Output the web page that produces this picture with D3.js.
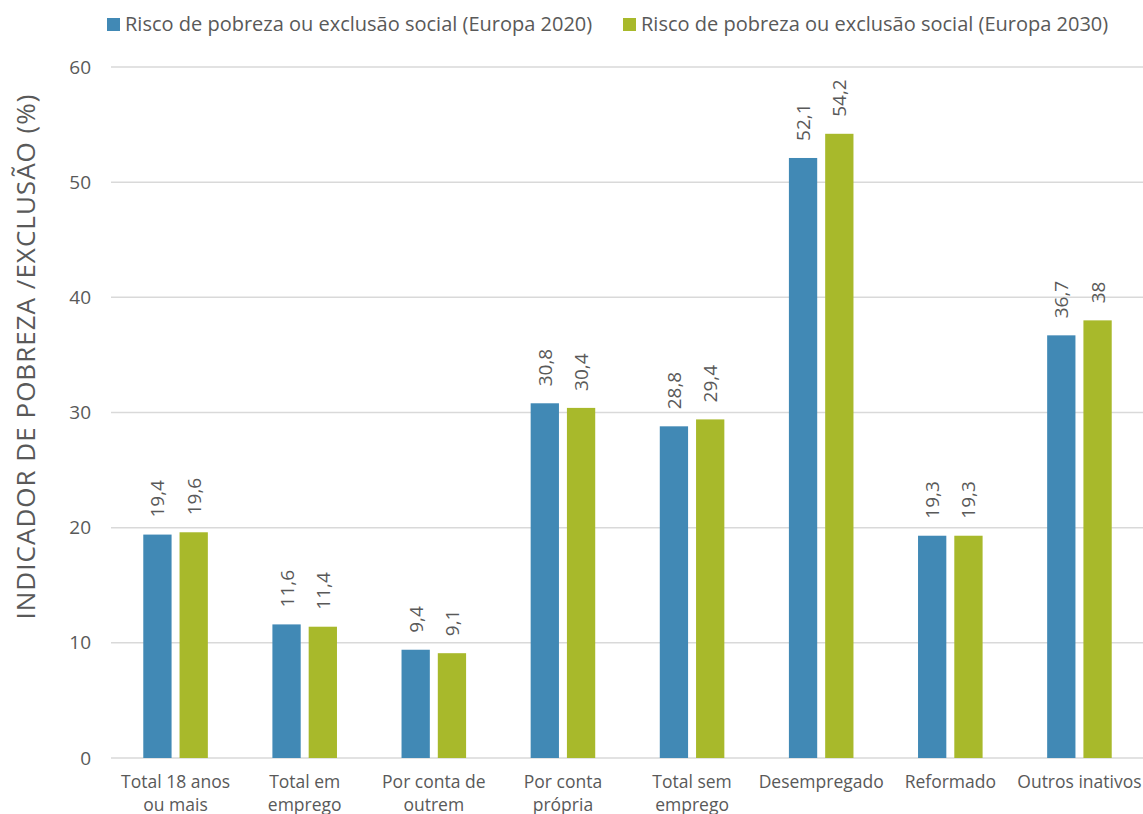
<!DOCTYPE html>
<html lang="pt">
<head>
<meta charset="UTF-8">
<title>Risco de pobreza ou exclusão social</title>
<style>
body {
    margin: 0;
    background-color: #fff;
    font-family: "Open Sans", "Noto Sans", sans-serif;
}
svg text {
    fill: #595959;
}
</style>
</head>
<body>
<div id="plot"></div>
<script src="https://cdn.jsdelivr.net/npm/d3@7"></script>
<script>

const w = 1143,
      h = 814;

// data
const categories = ["Total 18 anos|ou mais", "Total em|emprego", "Por conta de|outrem", "Por conta|própria",
                    "Total sem|emprego", "Desempregado", "Reformado", "Outros inativos"];
const seriesNames = ["Risco de pobreza ou exclusão social (Europa 2020)",
                     "Risco de pobreza ou exclusão social (Europa 2030)"];
const values2020 = [19.4, 11.6, 9.4, 30.8, 28.8, 52.1, 19.3, 36.7];
const values2030 = [19.6, 11.4, 9.1, 30.4, 29.4, 54.2, 19.3, 38];
const yTicks = [0, 10, 20, 30, 40, 50, 60];
const colors = ["#4189b5", "#a8b92b"];

const rows = categories.map((c, i) => ({cat: c, vals: [values2020[i], values2030[i]]}));

const svg = d3.select("#plot").append("svg")
    .attr("width", w)
    .attr("height", h);

const mLeft = 111, mRight = 1144, mTop = 67, mBottom = 758;

const x0 = d3.scaleBand()
    .domain(categories)
    .range([mLeft, mRight])
    .paddingInner(0.5)
    .paddingOuter(0.25);

const x1 = d3.scaleBand()
    .domain([0, 1])
    .range([0, x0.bandwidth()])
    .paddingInner(0.22);

const y = d3.scaleLinear()
    .domain([0, 60])
    .range([mBottom, mTop]);

// gridlines
svg.selectAll(".grid")
    .data(yTicks)
    .join("line")
    .attr("class", "grid")
    .attr("x1", mLeft)
    .attr("x2", mRight)
    .attr("y1", d => y(d))
    .attr("y2", d => y(d))
    .attr("stroke", "#d9d9d9")
    .attr("stroke-width", 1.5);

// y axis labels
const yAxis = svg.append("g")
    .attr("transform", `translate(${mLeft - 20},0)`)
    .call(d3.axisLeft(y).tickValues(yTicks).tickSize(0).tickPadding(0));
yAxis.select(".domain").remove();
yAxis.selectAll("text")
    .attr("font-family", "'Open Sans', 'Noto Sans', sans-serif")
    .attr("font-size", 19)
    .attr("fill", "#595959");

// y axis title
svg.append("text")
    .attr("transform", `translate(35,357) rotate(-90)`)
    .attr("text-anchor", "middle")
    .attr("font-size", 26)
    .attr("textLength", 525)
    .attr("lengthAdjust", "spacing")
    .text("INDICADOR DE POBREZA /EXCLUSÃO (%)");

// bars
const groups = svg.selectAll(".cat")
    .data(rows)
    .join("g")
    .attr("class", "cat")
    .attr("transform", d => `translate(${x0(d.cat)},0)`);

groups.selectAll("rect")
    .data(d => d.vals)
    .join("rect")
    .attr("x", (d, i) => x1(i))
    .attr("width", x1.bandwidth())
    .attr("y", d => y(d))
    .attr("height", d => y(0) - y(d))
    .attr("fill", (d, i) => colors[i]);

// value labels
groups.selectAll(".val")
    .data(d => d.vals)
    .join("text")
    .attr("class", "val")
    .attr("transform", (d, i) => `translate(${x1(i) + x1.bandwidth() / 2 + 7},${y(d) - 17}) rotate(-90)`)
    .attr("font-size", 19)
    .text(d => String(d).replace(".", ","));

// category labels
svg.selectAll(".catlabel")
    .data(categories)
    .join("text")
    .attr("class", "catlabel")
    .attr("x", d => x0(d) + x0.bandwidth() / 2)
    .attr("y", 788)
    .attr("text-anchor", "middle")
    .attr("font-size", 17.5)
    .selectAll("tspan")
    .data(d => d.split("|").map(t => ({t, x: x0(d) + x0.bandwidth() / 2})))
    .join("tspan")
    .attr("x", d => d.x)
    .attr("dy", (d, i) => i === 0 ? 0 : 23)
    .text(d => d.t);

// legend
const legendX = [107, 623];
const legend = svg.selectAll(".legend")
    .data(seriesNames)
    .join("g")
    .attr("class", "legend")
    .attr("transform", (d, i) => `translate(${legendX[i]},18)`);
legend.append("rect")
    .attr("width", 13)
    .attr("height", 13)
    .attr("y", 0)
    .attr("fill", (d, i) => colors[i]);
legend.append("text")
    .attr("x", 18)
    .attr("y", 13)
    .attr("font-size", 20)
    .text(d => d);

</script>
</body>
</html>
